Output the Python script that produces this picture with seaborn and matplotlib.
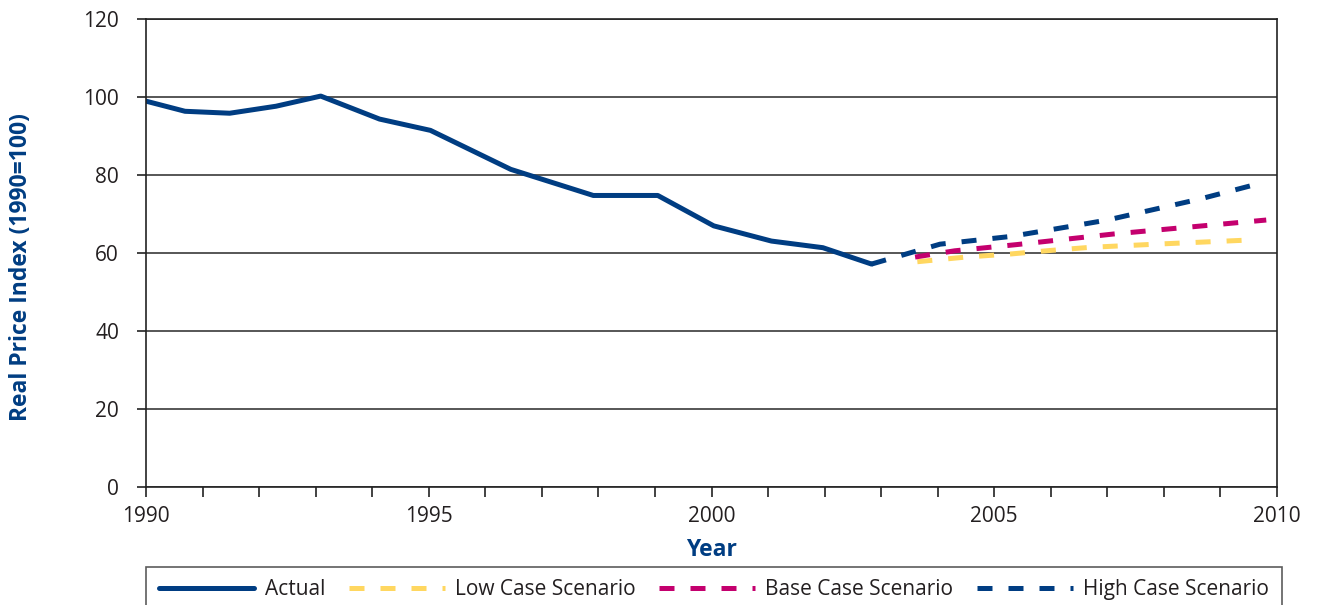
import pandas as pd
import matplotlib
matplotlib.use("Agg")
import matplotlib.pyplot as plt
import seaborn as sns

sns.set_style("white")
plt.rcParams["font.family"] = ["Open Sans", "DejaVu Sans"]

NAVY = "#003D82"
MAGENTA = "#C4006E"
YELLOW = "#FFD760"
TEXT = "#231F20"

# values
actual_year = [1990.0, 1990.69, 1991.48, 1992.3, 1993.09, 1994.13, 1995.03,
               1996.45, 1997.91, 1999.05, 2000.04, 2001.06, 2001.97, 2002.83]
actual_idx = [99.0, 96.4, 95.9, 97.7, 100.3, 94.4, 91.5,
              81.5, 74.8, 74.8, 67.0, 63.1, 61.4, 57.2]

low_year = [2003.64, 2004.5, 2005.3, 2006.0, 2006.7, 2008.0, 2009.56]
low_idx = [57.8, 59.0, 59.8, 60.7, 61.5, 62.4, 63.4]

base_year = [2003.6, 2004.3, 2005.4, 2007.1, 2009.81]
base_idx = [59.0, 60.6, 62.2, 64.9, 68.5]

high_year = [2002.83, 2004.04, 2005.3, 2006.4, 2007.0, 2008.64, 2009.75]
high_idx = [57.2, 62.3, 64.3, 67.0, 68.5, 73.9, 78.1]

fig = plt.figure(figsize=(13.2, 6.05), dpi=100)
ax = fig.add_axes([146 / 1320, 1 - 487 / 605, (1277 - 146) / 1320, (487 - 19.3) / 605])

dash = (0, (3, 3.2))
sns.lineplot(x=actual_year, y=actual_idx, ax=ax, color=NAVY, linewidth=3.6,
             label="Actual")
sns.lineplot(x=low_year, y=low_idx, ax=ax, color=YELLOW, linewidth=3.6,
             linestyle=dash, label="Low Case Scenario")
sns.lineplot(x=base_year, y=base_idx, ax=ax, color=MAGENTA, linewidth=3.6,
             linestyle=dash, label="Base Case Scenario")
sns.lineplot(x=high_year, y=high_idx, ax=ax, color=NAVY, linewidth=3.6,
             linestyle=dash, label="High Case Scenario")

ax.set_xlim(1990, 2010)
ax.set_ylim(0, 120)
ax.set_xticks([1990, 1995, 2000, 2005, 2010])
ax.set_xticks(range(1990, 2011), minor=True)
ax.set_yticks(range(0, 121, 20))

ax.yaxis.grid(True, color="#3a3a3a", linewidth=1.2)
ax.set_axisbelow(True)
for s in ax.spines.values():
    s.set_color("#222222")
    s.set_linewidth(1.2)

ax.tick_params(axis="y", which="major", direction="out", length=6.5, width=1.2,
               color="#222222", pad=13, labelsize=15, labelcolor=TEXT, left=True)
ax.tick_params(axis="x", which="both", direction="out", length=7.5, width=1.2,
               color="#222222", pad=6, labelsize=15, labelcolor=TEXT, bottom=True)

ax.set_xlabel("Year", fontsize=16.5, fontweight="bold", color=NAVY, labelpad=8)
ax.set_ylabel("Real Price Index (1990=100)", fontsize=16.5, fontweight="bold",
              color=NAVY)
ax.yaxis.set_label_coords(-0.100, 0.47)

leg = ax.legend(loc="upper left", bbox_to_anchor=(0, -0.271, 1.004, 0.1),
                mode="expand", ncol=4, fontsize=15, frameon=True, fancybox=False,
                handlelength=4.6, handletextpad=0.5, borderpad=0.6,
                borderaxespad=0)
leg.get_frame().set_edgecolor("#333333")
leg.get_frame().set_linewidth(1.2)
for t in leg.get_texts():
    t.set_color(TEXT)

fig.savefig("out.png", dpi=100)
